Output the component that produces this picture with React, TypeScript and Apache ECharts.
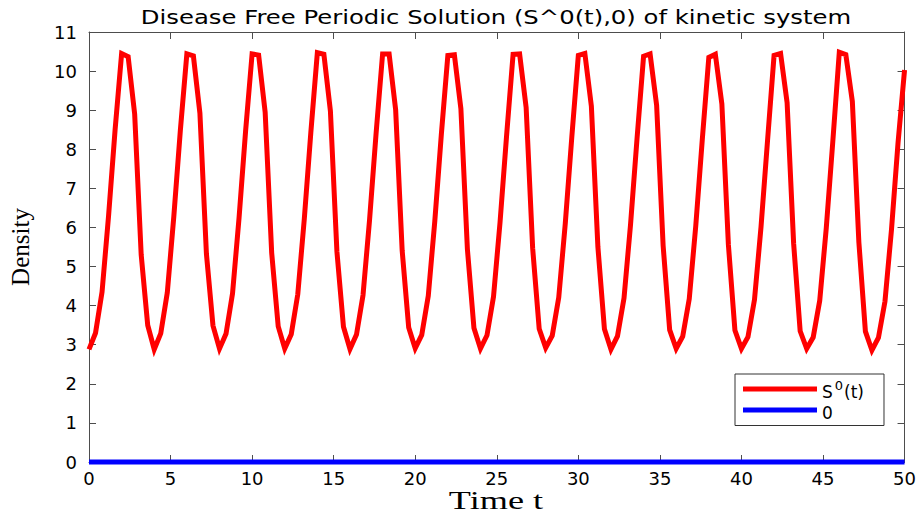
import React, { useEffect, useRef } from "react";
import * as echarts from "echarts";

const TITLE = "Disease Free Periodic Solution (S^0(t),0) of kinetic system";
const X_NAME = "Time t";
const Y_NAME = "Density";
const SERIES_S = "S^0(t)";
const SERIES_ZERO = "0";

// sampling step of the solution (time units)
const T_STEP = 0.4;

// S^0(t) values, t = 0, 0.4, ..., 50
const sValues = [
  2.88, 3.30, 4.35, 6.30, 8.50, 10.45, 10.37, 8.90, 5.30, 3.50,
  2.88, 3.29, 4.33, 6.28, 8.48, 10.44, 10.39, 8.92, 5.32, 3.49,
  2.90, 3.28, 4.31, 6.25, 8.46, 10.44, 10.41, 8.95, 5.35, 3.47,
  2.90, 3.27, 4.29, 6.22, 8.43, 10.47, 10.43, 8.98, 5.38, 3.46,
  2.89, 3.26, 4.27, 6.19, 8.40, 10.44, 10.44, 9.01, 5.41, 3.44,
  2.91, 3.25, 4.25, 6.16, 8.37, 10.40, 10.42, 9.04, 5.44, 3.43,
  2.90, 3.24, 4.23, 6.13, 8.34, 10.43, 10.44, 9.07, 5.47, 3.41,
  2.92, 3.23, 4.21, 6.10, 8.31, 10.40, 10.45, 9.10, 5.50, 3.40,
  2.88, 3.22, 4.19, 6.07, 8.28, 10.38, 10.44, 9.13, 5.53, 3.38,
  2.90, 3.21, 4.17, 6.04, 8.25, 10.35, 10.43, 9.16, 5.56, 3.37,
  2.90, 3.20, 4.15, 6.01, 8.22, 10.40, 10.45, 9.19, 5.59, 3.35,
  2.90, 3.19, 4.13, 5.98, 8.19, 10.48, 10.42, 9.22, 5.62, 3.34,
  2.86, 3.18, 4.11, 5.95, 8.16, 10.03,
];

// the zero (infected) component
const zeroTimes = [0, 50];
const zeroValues = [0, 0];

const X_MIN = 0;
const X_MAX = 50;
const X_INTERVAL = 5;
const Y_MIN = 0;
const Y_MAX = 11;
const Y_INTERVAL = 1;

export default function App() {
  const ref = useRef<HTMLDivElement>(null);

  useEffect(() => {
    if (!ref.current) return;
    const chart = echarts.init(ref.current, null, { renderer: "svg" });

    const sData = sValues.map((v, i) => [+(i * T_STEP).toFixed(2), v]);
    const zData = zeroTimes.map((t, i) => [t, zeroValues[i]]);

    const axisColor = "#4d4d4d";
    const tickFont = { fontFamily: "DejaVu Sans", fontSize: 18, color: "#000" };

    const option: any = {
      animation: false,
      backgroundColor: "#fff",
      graphic: [
        {
          type: "text",
          x: 496,
          y: 17,
          scaleX: 1.28,
          style: {
            text: TITLE,
            font: '19px "DejaVu Sans"',
            fill: "#000",
            textAlign: "center",
            textVerticalAlign: "middle",
          },
        },
        {
          type: "text",
          x: 496,
          y: 501,
          scaleX: 1.45,
          style: {
            text: X_NAME,
            font: '25px "Liberation Serif"',
            fill: "#000",
            textAlign: "center",
            textVerticalAlign: "middle",
          },
        },
      ],
      grid: { left: 88, width: 817, top: 32, height: 430, containLabel: false },
      legend: {
        orient: "vertical",
        left: 735,
        top: 374,
        backgroundColor: "#fff",
        borderColor: "#333",
        borderWidth: 1,
        padding: [5, 20, 4, 8],
        itemGap: 4,
        itemWidth: 74,
        itemHeight: 5,
        icon: "rect",
        data: [SERIES_S, SERIES_ZERO],
        formatter: (name: string) =>
          name === SERIES_S ? "{n|S}{s|0}{n|(t)}" : "{n|0}",
        textStyle: {
          color: "#000",
          rich: {
            n: { fontFamily: "DejaVu Sans", fontSize: 17, color: "#000", padding: [6, 0, 0, 0] },
            s: { fontFamily: "DejaVu Sans", fontSize: 13, color: "#000", padding: [0, 1, 7, 2] },
          },
        },
      },
      xAxis: [
        {
          type: "value",
          min: X_MIN,
          max: X_MAX,
          interval: X_INTERVAL,
          position: "bottom",
          axisLine: { show: true, onZero: false, lineStyle: { color: axisColor, width: 1 } },
          axisTick: { show: true, inside: true, length: 7, lineStyle: { color: axisColor } },
          axisLabel: { ...tickFont, margin: 7 },
          splitLine: { show: false },
        },
        {
          type: "value",
          min: X_MIN,
          max: X_MAX,
          interval: X_INTERVAL,
          position: "top",
          axisLine: { show: true, onZero: false, lineStyle: { color: axisColor, width: 1 } },
          axisTick: { show: true, inside: true, length: 7, lineStyle: { color: axisColor } },
          axisLabel: { show: false },
          splitLine: { show: false },
        },
      ],
      yAxis: [
        {
          type: "value",
          min: Y_MIN,
          max: Y_MAX,
          interval: Y_INTERVAL,
          position: "left",
          name: Y_NAME,
          nameLocation: "middle",
          nameGap: 56,
          nameTextStyle: {
            fontFamily: "Liberation Serif",
            fontSize: 25,
            color: "#000",
          },
          axisLine: { show: true, onZero: false, lineStyle: { color: axisColor, width: 1 } },
          axisTick: { show: true, inside: true, length: 7, lineStyle: { color: axisColor } },
          axisLabel: { ...tickFont, margin: 12 },
          splitLine: { show: false },
        },
        {
          type: "value",
          min: Y_MIN,
          max: Y_MAX,
          interval: Y_INTERVAL,
          position: "right",
          axisLine: { show: true, onZero: false, lineStyle: { color: axisColor, width: 1 } },
          axisTick: { show: true, inside: true, length: 7, lineStyle: { color: axisColor } },
          axisLabel: { show: false },
          splitLine: { show: false },
        },
      ],
      series: [
        {
          name: SERIES_S,
          type: "line",
          xAxisIndex: 0,
          yAxisIndex: 0,
          data: sData,
          showSymbol: false,
          symbol: "none",
          clip: false,
          lineStyle: { color: "#ff0000", width: 5, join: "miter" },
          itemStyle: { color: "#ff0000" },
          z: 3,
        },
        {
          name: SERIES_ZERO,
          type: "line",
          xAxisIndex: 0,
          yAxisIndex: 0,
          data: zData,
          showSymbol: false,
          symbol: "none",
          clip: false,
          lineStyle: { color: "#0000ff", width: 5 },
          itemStyle: { color: "#0000ff" },
          z: 4,
        },
      ],
    };

    chart.setOption(option);
    return () => chart.dispose();
  }, []);

  return (
    <div
      ref={ref}
      style={{ position: "fixed", left: 0, top: 0, width: 919, height: 515, background: "#fff" }}
    />
  );
}
